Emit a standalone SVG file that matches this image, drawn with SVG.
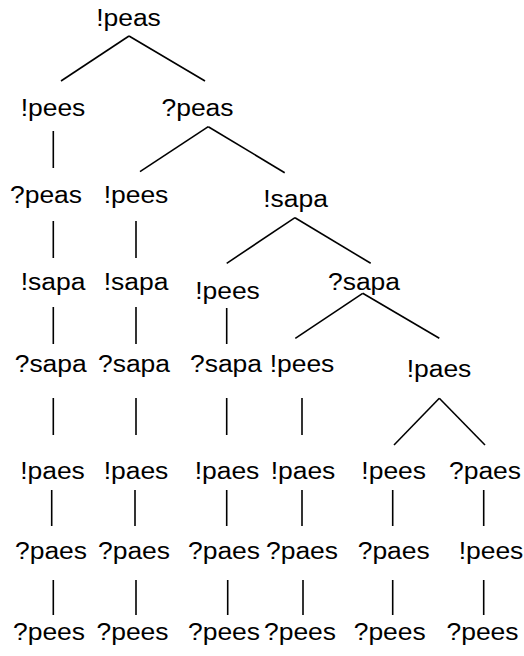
<svg xmlns="http://www.w3.org/2000/svg" width="524" height="656" viewBox="0 0 524 656">
  <style>
    .lbl { font-family: "Liberation Sans", Arial, sans-serif; font-size: 24.5px; fill: #000; text-anchor: middle; }
    .edge { stroke: #000; stroke-width: 1.6; fill: none; stroke-linecap: butt; }
  </style>
  <rect width="524" height="656" fill="#fff"/>

  <!-- tree edges -->
  <g id="connectors" class="edge">
    <line x1="129" y1="36" x2="61" y2="81"/>
    <line x1="129" y1="36" x2="205" y2="81"/>
    <line x1="53.3" y1="131" x2="53.3" y2="168"/>
    <line x1="208.3" y1="126.7" x2="140" y2="171.7"/>
    <line x1="208.3" y1="126.7" x2="284.7" y2="172.7"/>
    <line x1="53.3" y1="221" x2="53.3" y2="258"/>
    <line x1="136" y1="221" x2="136" y2="258"/>
    <line x1="295" y1="217.7" x2="226.7" y2="263.3"/>
    <line x1="295" y1="217.7" x2="370.7" y2="263.3"/>
    <line x1="53.3" y1="307" x2="53.3" y2="344"/>
    <line x1="136" y1="307" x2="136" y2="344"/>
    <line x1="226.7" y1="308" x2="226.7" y2="344"/>
    <line x1="362.7" y1="293.3" x2="295.3" y2="338.3"/>
    <line x1="362.7" y1="293.3" x2="439.3" y2="338.3"/>
    <line x1="53.3" y1="398" x2="53.3" y2="435"/>
    <line x1="136" y1="398" x2="136" y2="435"/>
    <line x1="226.7" y1="398" x2="226.7" y2="435"/>
    <line x1="302" y1="398" x2="302" y2="435"/>
    <line x1="439.3" y1="398.3" x2="394" y2="445"/>
    <line x1="439.3" y1="398.3" x2="485" y2="445"/>
    <line x1="51.7" y1="490" x2="51.7" y2="526"/>
    <line x1="135" y1="490" x2="135" y2="526"/>
    <line x1="226.7" y1="490" x2="226.7" y2="526"/>
    <line x1="302" y1="490" x2="302" y2="526"/>
    <line x1="392.7" y1="490" x2="392.7" y2="526"/>
    <line x1="483.7" y1="490" x2="483.7" y2="526"/>
    <line x1="53.3" y1="580" x2="53.3" y2="615"/>
    <line x1="136" y1="580" x2="136" y2="615"/>
    <line x1="227.7" y1="580" x2="227.7" y2="615"/>
    <line x1="303" y1="580" x2="303" y2="615"/>
    <line x1="392.7" y1="580" x2="392.7" y2="615"/>
    <line x1="483.7" y1="580" x2="483.7" y2="615"/>
  </g>

  <!-- tree nodes: each label is slightly widened horizontally -->
  <g id="n0" transform="translate(128.5,26) scale(1.08,1)"><text class="lbl">!peas</text></g>
  <g id="n1" transform="translate(53,116) scale(1.08,1)"><text class="lbl">!pees</text></g>
  <g id="n2" transform="translate(197.5,116) scale(1.08,1)"><text class="lbl">?peas</text></g>
  <g id="n3" transform="translate(46,203) scale(1.08,1)"><text class="lbl">?peas</text></g>
  <g id="n4" transform="translate(136,203) scale(1.08,1)"><text class="lbl">!pees</text></g>
  <g id="n5" transform="translate(295.5,206.5) scale(1.08,1)"><text class="lbl">!sapa</text></g>
  <g id="n6" transform="translate(53,289.5) scale(1.08,1)"><text class="lbl">!sapa</text></g>
  <g id="n7" transform="translate(136,289.5) scale(1.08,1)"><text class="lbl">!sapa</text></g>
  <g id="n8" transform="translate(227.5,298.5) scale(1.08,1)"><text class="lbl">!pees</text></g>
  <g id="n9" transform="translate(364,289.5) scale(1.08,1)"><text class="lbl">?sapa</text></g>
  <g id="n10" transform="translate(50.7,371.5) scale(1.08,1)"><text class="lbl">?sapa</text></g>
  <g id="n11" transform="translate(134,371.5) scale(1.08,1)"><text class="lbl">?sapa</text></g>
  <g id="n12" transform="translate(226,371.5) scale(1.08,1)"><text class="lbl">?sapa</text></g>
  <g id="n13" transform="translate(302,371.5) scale(1.08,1)"><text class="lbl">!pees</text></g>
  <g id="n14" transform="translate(439,376.5) scale(1.08,1)"><text class="lbl">!paes</text></g>
  <g id="n15" transform="translate(52.5,478.5) scale(1.08,1)"><text class="lbl">!paes</text></g>
  <g id="n16" transform="translate(136,478.5) scale(1.08,1)"><text class="lbl">!paes</text></g>
  <g id="n17" transform="translate(227,478.5) scale(1.08,1)"><text class="lbl">!paes</text></g>
  <g id="n18" transform="translate(303,478.5) scale(1.08,1)"><text class="lbl">!paes</text></g>
  <g id="n19" transform="translate(393.7,478.5) scale(1.08,1)"><text class="lbl">!pees</text></g>
  <g id="n20" transform="translate(485,478.5) scale(1.08,1)"><text class="lbl">?paes</text></g>
  <g id="n21" transform="translate(51,558.5) scale(1.08,1)"><text class="lbl">?paes</text></g>
  <g id="n22" transform="translate(134,558.5) scale(1.08,1)"><text class="lbl">?paes</text></g>
  <g id="n23" transform="translate(224,558.5) scale(1.08,1)"><text class="lbl">?paes</text></g>
  <g id="n24" transform="translate(302,558.5) scale(1.08,1)"><text class="lbl">?paes</text></g>
  <g id="n25" transform="translate(393.7,558.5) scale(1.08,1)"><text class="lbl">?paes</text></g>
  <g id="n26" transform="translate(491,558.5) scale(1.08,1)"><text class="lbl">!pees</text></g>
  <g id="n27" transform="translate(49,640) scale(1.08,1)"><text class="lbl">?pees</text></g>
  <g id="n28" transform="translate(132.5,640) scale(1.08,1)"><text class="lbl">?pees</text></g>
  <g id="n29" transform="translate(224,640) scale(1.08,1)"><text class="lbl">?pees</text></g>
  <g id="n30" transform="translate(300,640) scale(1.08,1)"><text class="lbl">?pees</text></g>
  <g id="n31" transform="translate(389.7,640) scale(1.08,1)"><text class="lbl">?pees</text></g>
  <g id="n32" transform="translate(482.5,640) scale(1.08,1)"><text class="lbl">?pees</text></g>
</svg>
